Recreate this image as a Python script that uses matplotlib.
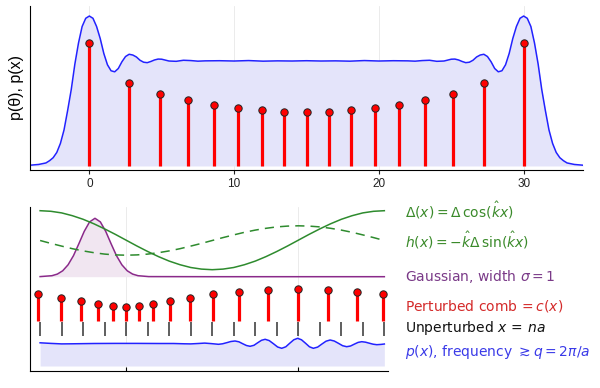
import numpy as np
import matplotlib.pyplot as plt

plt.rcParams['mathtext.fontset'] = 'dejavusans'

# ---- top panel: p(theta) curve and comb ----
theta_x = [-4.1, -3.5, -3.0, -2.75, -2.5, -2.25, -2.0, -1.75, -1.5, -1.25, -1.0, -0.75,
           -0.5, -0.25, 0.0, 0.25, 0.5, 0.75, 1.0, 1.25, 1.5, 1.75, 2.0, 2.25, 2.5, 2.75,
           3.0, 3.25, 3.5, 3.75, 4.0, 4.25, 4.5, 4.75, 5.0, 5.5, 6.0, 6.5, 7.0, 7.5, 8.0,
           9.0, 10.0, 11.0, 12.0, 13.0, 14.0, 15.0, 16.0, 17.0, 18.0, 19.0, 20.0, 21.0,
           22.0, 22.5, 23.0, 23.5, 24.0, 24.5, 25.0, 25.25, 25.5, 25.75, 26.0, 26.25,
           26.5, 26.75, 27.0, 27.25, 27.5, 27.75, 28.0, 28.25, 28.5, 28.75, 29.0, 29.25,
           29.5, 29.75, 30.0, 30.25, 30.5, 30.75, 31.0, 31.25, 31.5, 31.75, 32.0, 32.25,
           32.5, 32.75, 33.0, 33.5, 34.1]
theta_p = [0.005, 0.01, 0.02, 0.035, 0.055, 0.09, 0.15, 0.24, 0.37, 0.51, 0.68, 0.82,
           0.93, 0.985, 1.0, 0.985, 0.93, 0.85, 0.75, 0.675, 0.635, 0.628, 0.65, 0.695,
           0.73, 0.745, 0.74, 0.727, 0.705, 0.692, 0.689, 0.697, 0.707, 0.713, 0.712,
           0.70, 0.698, 0.705, 0.703, 0.699, 0.701, 0.702, 0.700, 0.703, 0.699, 0.701,
           0.700, 0.702, 0.700, 0.701, 0.699, 0.703, 0.700, 0.702, 0.701, 0.699, 0.703,
           0.705, 0.698, 0.70, 0.712, 0.713, 0.707, 0.697, 0.689, 0.692, 0.705, 0.727,
           0.74, 0.745, 0.73, 0.695, 0.65, 0.628, 0.635, 0.675, 0.75, 0.85, 0.93, 0.985,
           1.0, 0.985, 0.93, 0.82, 0.68, 0.51, 0.37, 0.24, 0.15, 0.09, 0.055, 0.035,
           0.02, 0.01, 0.005]

comb_x = [0.0, 2.72, 4.90, 6.83, 8.62, 10.30, 11.91, 13.47, 15.0,
          16.53, 18.09, 19.70, 21.38, 23.17, 25.10, 27.28, 30.0]
comb_h = [0.822, 0.553, 0.478, 0.438, 0.409, 0.389, 0.373, 0.362, 0.36,
          0.362, 0.373, 0.389, 0.409, 0.438, 0.478, 0.553, 0.822]
top_ticks = [0, 10, 20, 30]

# ---- bottom panel ----
wave_x = [0.0, 0.5, 1.0, 1.5, 2.0, 2.5, 3.0, 3.5, 4.0, 4.5, 5.0, 5.5, 6.0, 6.5, 7.0, 7.5,
          8.0, 8.5, 9.0, 9.5, 10.0, 10.5, 11.0, 11.5, 12.0, 12.5, 13.0, 13.5, 14.0, 14.5,
          15.0, 15.5, 16.0]
delta_y = [15.53, 15.47, 15.31, 15.03, 14.67, 14.22, 13.71, 13.16, 12.58, 12.00, 11.45,
           10.94, 10.49, 10.13, 9.85, 9.69, 9.63, 9.69, 9.85, 10.13, 10.49, 10.94, 11.45,
           12.00, 12.58, 13.16, 13.71, 14.22, 14.67, 15.03, 15.31, 15.47, 15.53]
h_y = [12.55, 12.26, 11.99, 11.73, 11.51, 11.33, 11.19, 11.11, 11.08, 11.11, 11.19, 11.33,
       11.51, 11.73, 11.99, 12.26, 12.55, 12.84, 13.11, 13.37, 13.59, 13.77, 13.91, 13.99,
       14.02, 13.99, 13.91, 13.77, 13.59, 13.37, 13.11, 12.84, 12.55]

gauss_x = [0.0, 0.55, 0.8, 1.05, 1.3, 1.55, 1.8, 2.05, 2.3, 2.55, 2.8, 3.05, 3.3, 3.55,
           3.8, 4.05, 4.3, 4.55, 5.05, 8.0, 12.0, 16.0]
gauss_y = [8.94, 9.03, 9.19, 9.52, 10.12, 11.03, 12.22, 13.46, 14.41, 14.77, 14.41, 13.46,
           12.22, 11.03, 10.12, 9.52, 9.19, 9.03, 8.94, 8.93, 8.93, 8.93]
gauss_base = 8.93

pert_x = [-0.08, 0.99, 1.92, 2.70, 3.38, 3.98, 4.59, 5.27, 6.04, 6.97, 8.05, 9.26,
          10.59, 12.0, 13.4, 14.72, 15.93]
pert_top = [7.17, 6.83, 6.47, 6.2, 6.0, 5.93, 6.0, 6.2, 6.47, 6.83, 7.17, 7.43, 7.63,
            7.7, 7.6, 7.43, 7.17]
pert_base = 4.5

unpert_x = list(range(17))

px_x = [0.0, 0.5, 1.0, 1.5, 2.5, 3.5, 4.5, 5.5, 6.2, 6.7, 7.0, 7.35, 7.65, 7.95, 8.29,
        8.48, 8.68, 8.87, 9.06, 9.24, 9.41, 9.59, 9.76, 9.94, 10.11, 10.29, 10.46, 10.65,
        10.85, 11.04, 11.23, 11.42, 11.60, 11.79, 11.97, 12.15, 12.34, 12.52, 12.70,
        12.90, 13.09, 13.29, 13.48, 13.67, 13.87, 14.06, 14.25, 14.43, 14.60, 14.78,
        14.95, 15.13, 15.30, 15.48, 15.65, 15.85, 16.0]
px_y = [2.32, 2.26, 2.21, 2.22, 2.25, 2.26, 2.26, 2.25, 2.25, 2.22, 2.21, 2.25, 2.29,
        2.24, 2.17, 2.22, 2.335, 2.45, 2.50, 2.42, 2.235, 2.05, 1.97, 2.07, 2.32, 2.57,
        2.67, 2.54, 2.22, 1.90, 1.77, 1.92, 2.27, 2.62, 2.77, 2.62, 2.27, 1.92, 1.77,
        1.89, 2.185, 2.48, 2.60, 2.50, 2.265, 2.03, 1.93, 2.00, 2.18, 2.36, 2.43, 2.38,
        2.28, 2.18, 2.13, 2.16, 2.20]
bottom_ticks = [4, 12]

labels = [r'$\Delta(x) = \Delta\,\cos(\hat{k}x)$',
          r'$h(x) = -\hat{k}\Delta\,\sin(\hat{k}x)$',
          r'Gaussian, width $\sigma = 1$',
          r'Perturbed comb$\,= c(x)$',
          r'Unperturbed $x\, =\, na$',
          r'$p(x)$, frequency $\gtrsim q = 2\pi/a$']
label_y = [210.7, 240.0, 276.7, 306.0, 328.3, 351.7]
label_col = ['#3a8a2a', '#3a8a2a', '#7a3a88', '#d42a2a', '#111111', '#3a3ae8']

green = '#2e8b2e'
purple = '#8a2a8a'

fig = plt.figure(figsize=(6, 3.88), dpi=100)

ax1 = fig.add_axes([30/600, 1-170/388, 553/600, 164/388])
ax1.fill_between(theta_x, 0, theta_p, color='#e4e4fa', lw=0)
ax1.plot(theta_x, theta_p, color='#2222ff', lw=1.1)
ax1.vlines(comb_x, 0, comb_h, color='red', lw=2.3, zorder=3)
ax1.plot(comb_x, comb_h, 'o', ms=5.3, mfc='red', mec='#222222', mew=0.7, zorder=4)
ax1.set_xlim(-4.1, 34.1)
ax1.set_ylim(-0.027, 1.067)
ax1.set_xticks(top_ticks)
ax1.set_yticks([])
ax1.grid(axis='x', color='#e8e8e8', lw=0.6)
ax1.set_axisbelow(True)
for s in ['top', 'right']:
    ax1.spines[s].set_visible(False)
ax1.tick_params(axis='x', direction='out', length=3, width=0.8,
                labelsize=8.5, colors='#222222', pad=3)
for t in ax1.get_xticklabels():
    t.set_family('Liberation Sans')
ax1.set_ylabel('p(θ), p(x)', fontsize=11.5, family='Liberation Sans', labelpad=4)

ax2 = fig.add_axes([30/600, 1-370.7/388, 358/600, 164/388])
ax2.fill_between(gauss_x, gauss_base, gauss_y, color='#f1e6f1', lw=0)
ax2.plot(gauss_x, gauss_y, color=purple, lw=1.1)
ax2.plot(wave_x, delta_y, color=green, lw=1.1)
ax2.plot(wave_x, h_y, color=green, lw=1.1, ls=(0, (6, 4)))
ax2.vlines(pert_x, pert_base, pert_top, color='red', lw=2.3, zorder=3)
ax2.plot(pert_x, pert_top, 'o', ms=5.3, mfc='red', mec='#222222', mew=0.7, zorder=4)
ax2.vlines(unpert_x, 3.03, 4.43, color='#333333', lw=1.1)
ax2.fill_between(px_x, 0, px_y, color='#e4e4fa', lw=0)
ax2.plot(px_x, px_y, color='#2222ff', lw=1.1)
ax2.set_xlim(-0.47, 16.17)
ax2.set_ylim(-0.47, 15.93)
ax2.set_xticks(bottom_ticks)
ax2.set_xticklabels([])
ax2.set_yticks([])
ax2.grid(axis='x', color='#e8e8e8', lw=0.6)
ax2.set_axisbelow(True)
for s in ['top', 'right']:
    ax2.spines[s].set_visible(False)
ax2.tick_params(axis='x', direction='in', length=3, width=0.8)

for txt, yp, c in zip(labels, label_y, label_col):
    fig.text(405/600, 1-yp/388, txt, color=c, fontsize=10, va='center', ha='left')

fig.savefig('out.png', dpi=100)
